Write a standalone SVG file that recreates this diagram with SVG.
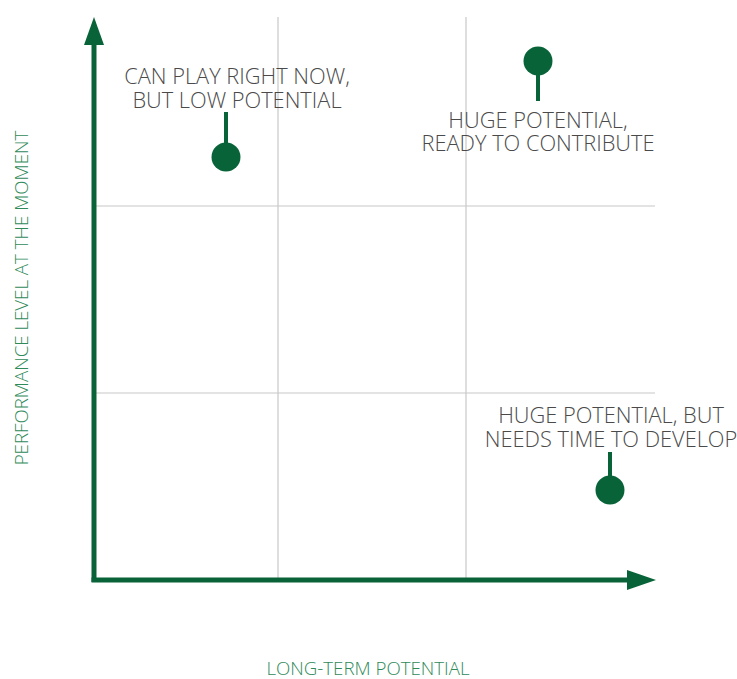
<svg xmlns="http://www.w3.org/2000/svg" width="737" height="679" viewBox="0 0 737 679">
<style>
.grid{stroke:#c8c8c8;stroke-width:1.2;fill:none}
.axis{stroke:#086338;stroke-width:5;fill:none}
.stem{stroke:#086338;stroke-width:4}
.dot{fill:#086338}
.lbl{font-family:"Open Sans","Liberation Sans",sans-serif;font-weight:300;font-size:21.8px;fill:#4a4a4a;text-anchor:middle}
.ax{font-family:"Open Sans","Liberation Sans",sans-serif;font-weight:300;font-size:18.7px;fill:#2f8a5a;text-anchor:middle}
</style>
<rect width="737" height="679" fill="#ffffff"/>
<g id="grid">
<line class="grid" x1="278" y1="17" x2="278" y2="580"/>
<line class="grid" x1="466" y1="17" x2="466" y2="580"/>
<line class="grid" x1="94" y1="206" x2="655" y2="206"/>
<line class="grid" x1="94" y1="393" x2="655" y2="393"/>
</g>
<g id="connectors">
<line class="axis" x1="94" y1="582" x2="94" y2="44"/>
<polygon class="dot" points="94,17 104,45 84,45"/>
<line class="axis" x1="91.5" y1="580" x2="630" y2="580"/>
<polygon class="dot" points="656,580 627,570 627,590"/>
</g>
<g id="node-can-play">
<line class="stem" x1="226" y1="112" x2="226" y2="150"/>
<circle class="dot" cx="226" cy="157" r="14.5"/>
<text class="lbl" x="237" y="84">CAN PLAY RIGHT NOW,</text>
<text class="lbl" x="237" y="108">BUT LOW POTENTIAL</text>
</g>
<g id="node-ready">
<circle class="dot" cx="538" cy="61" r="14.5"/>
<line class="stem" x1="538" y1="65" x2="538" y2="101"/>
<text class="lbl" x="538" y="128">HUGE POTENTIAL,</text>
<text class="lbl" x="538" y="151">READY TO CONTRIBUTE</text>
</g>
<g id="node-develop">
<line class="stem" x1="610" y1="452" x2="610" y2="485"/>
<circle class="dot" cx="610" cy="490" r="14.5"/>
<text class="lbl" x="611" y="423">HUGE POTENTIAL, BUT</text>
<text class="lbl" x="611" y="447">NEEDS TIME TO DEVELOP</text>
</g>
<g id="axis-labels">
<text class="ax" transform="translate(28,298) rotate(-90)">PERFORMANCE LEVEL AT THE MOMENT</text>
<text class="ax" x="368" y="675">LONG-TERM POTENTIAL</text>
</g>
</svg>
